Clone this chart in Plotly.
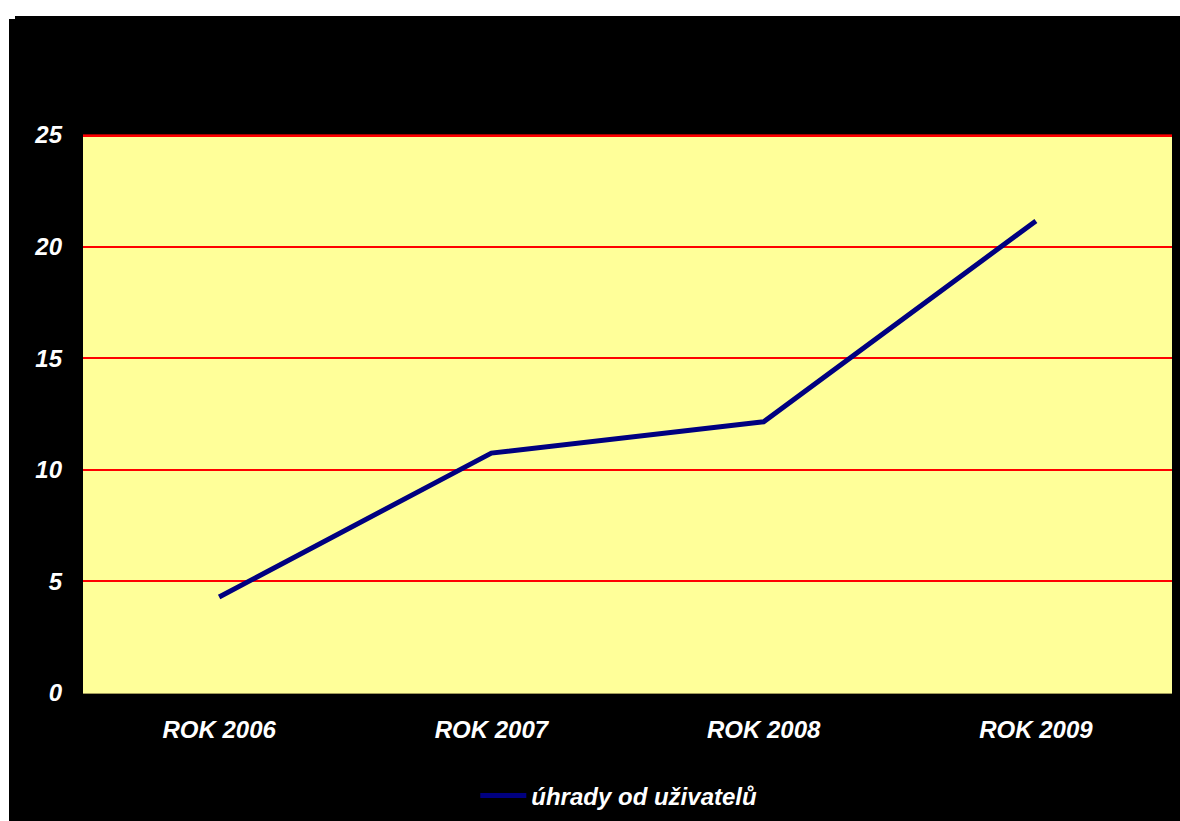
import plotly.graph_objects as go

# Yearly payments from users
years = ["ROK 2006", "ROK 2007", "ROK 2008", "ROK 2009"]
payments = [4.3, 10.75, 12.15, 21.15]
y_ticks = [0, 5, 10, 15, 20, 25]
series_name = "úhrady od uživatelů"

W, H = 1180, 821
L, R, T, B = 83, 8, 135, 128
pw, ph = W - L - R, H - T - B


def px_x(x):
    return (x - L) / pw


def px_y(y):
    return (H - B - y) / ph


font = dict(family="Liberation Sans, Arial, sans-serif", size=24, color="white",
            weight="bold", style="italic")

fig = go.Figure()
fig.add_trace(go.Scatter(
    x=years, y=payments, mode="lines", name=series_name,
    line=dict(color="#000080", width=5),
))

fig.update_layout(
    width=W, height=H,
    margin=dict(l=L, r=R, t=T, b=B, pad=0, autoexpand=False),
    paper_bgcolor="black",
    plot_bgcolor="#FFFF99",
    showlegend=True,
    legend=dict(
        orientation="h", x=0.492, xanchor="center", y=px_y(796), yanchor="middle",
        font=font, bgcolor="rgba(0,0,0,0)", itemwidth=46,
    ),
    xaxis=dict(
        type="category", range=[-0.5, 3.5], showgrid=False, zeroline=False,
        showline=True, linecolor="#a09a5a", linewidth=1,
        ticks="", tickfont=font, ticklabelstandoff=15,
    ),
    yaxis=dict(
        range=[0, 25], tickvals=y_ticks, showgrid=True, gridcolor="#FF0000",
        gridwidth=2, zeroline=False, showline=False, ticks="",
        tickfont=font, ticklabelstandoff=20,
    ),
    shapes=[
        # white page margin along the top and left
        dict(type="rect", xref="paper", yref="paper", x0=px_x(0), x1=px_x(W + 5),
             y0=px_y(16), y1=px_y(-5), fillcolor="white", line=dict(width=0), layer="below"),
        dict(type="rect", xref="paper", yref="paper", x0=px_x(-5), x1=px_x(9),
             y0=px_y(H + 5), y1=px_y(-5), fillcolor="white", line=dict(width=0), layer="below"),
        dict(type="rect", xref="paper", yref="paper", x0=px_x(-5), x1=px_x(15),
             y0=px_y(19), y1=px_y(-5), fillcolor="white", line=dict(width=0), layer="below"),
        # top gridline at the upper edge of the plot area
        dict(type="line", xref="paper", yref="paper", x0=0, x1=1,
             y0=px_y(134.5), y1=px_y(134.5), line=dict(color="#A00000", width=1), layer="above"),
        dict(type="line", xref="paper", yref="paper", x0=0, x1=1,
             y0=px_y(136), y1=px_y(136), line=dict(color="#FF0000", width=2), layer="above"),
    ],
)

fig.write_html("out.html")
